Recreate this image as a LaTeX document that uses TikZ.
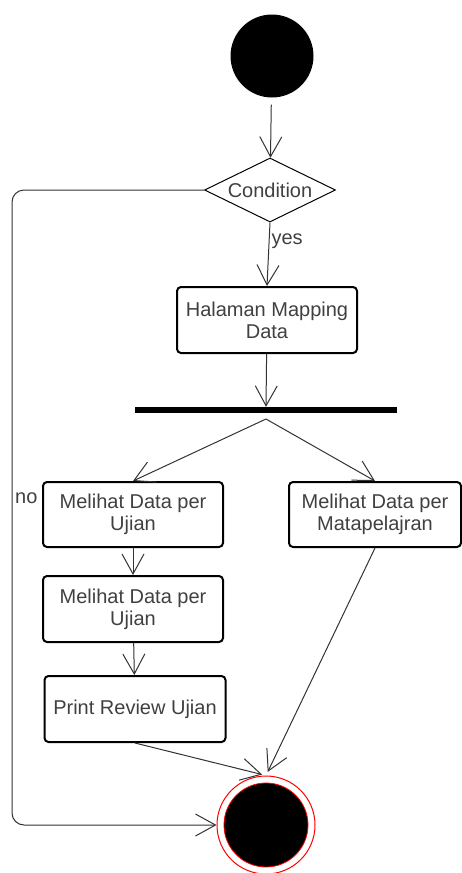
\documentclass[tikz,border=0pt]{standalone}
\usepackage{fontspec}
\setmainfont{Liberation Sans}
\usetikzlibrary{arrows.meta,shapes.geometric}

\begin{document}
\begin{tikzpicture}[
    x=1pt, y=-1pt,
    >={Straight Barb[length=20pt, width=22pt, line width=1pt]},
    font=\fontsize{20}{22}\selectfont,
    act/.style={draw, rounded corners=4pt, line width=2pt, minimum width=180pt,
                minimum height=66pt, align=center, text=black!75, inner sep=2pt},
    flow/.style={->, draw=black!80, line width=1pt},
    lbl/.style={text=black!75, inner sep=2pt},
  ]
    \useasboundingbox (0,0) rectangle (462,873);

    % --- start and decision ---
    \node[circle, fill=black, minimum size=83pt, inner sep=0pt] (start) at (272,56) {};
    \node[diamond, aspect=2, draw, line width=1pt, minimum width=131pt, minimum height=64pt,
          inner sep=0pt, text=black!75] (cond) at (270,190) {Condition};
    \node[act] (hmap) at (267,320) {Halaman Mapping\\Data};

    \draw[flow, shorten <=7pt] (start) -- (cond);
    \draw[flow] (cond.south) -- node[lbl, pos=0.3, right] {yes} (hmap.north);

    % --- fork bar ---
    \node[fill=black, minimum width=262pt, minimum height=6pt, inner sep=0pt] (fork) at (266,410) {};
    \coordinate (forkout) at (266,419);
    \draw[flow] (hmap) -- (fork.north);

    % --- the two branches ---
    \node[act, minimum height=65pt] (ujian1) at (133,514.5) {Melihat Data per\\Ujian};
    \node[act, minimum width=172pt, minimum height=65pt] (mapel) at (375,514.5) {Melihat Data per\\Matapelajran};
    \node[act] (ujian2) at (133,609) {Melihat Data per\\Ujian};
    \node[act, minimum width=181pt] (print) at (135,709) {Print Review Ujian};

    \draw[flow] (forkout) -- (ujian1.north);
    \draw[flow] (forkout) -- (mapel.north);
    \draw[flow] (ujian1) -- (ujian2);
    \draw[flow] (ujian2) -- (print);

    % --- end node ---
    \node[circle, draw=red, fill=white, line width=1pt, minimum size=98pt, inner sep=0pt] (endout) at (266,825) {};
    \node[circle, draw=red, fill=black, line width=0.8pt, minimum size=84pt, inner sep=0pt] (endin) at (endout) {};

    \draw[flow, shorten >=4pt] (print.south) -- (endout.north);
    \draw[flow, shorten >=4pt] (mapel.south) -- (endout.north);

    % no-branch back round the left side
    \coordinate (nocorner) at (12,825);
    \draw[flow, rounded corners=12pt] (cond.west) -| (nocorner) -- (endout.west);
    \node[lbl, anchor=west] (no) at (13,498) {no};
\end{tikzpicture}
\end{document}
